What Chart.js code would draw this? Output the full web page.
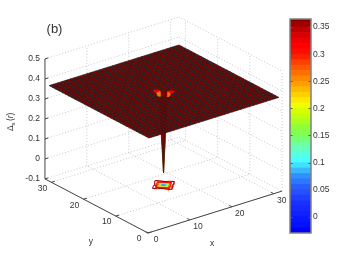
<!DOCTYPE html>
<html>
<head>
<meta charset="utf-8">
<style>
  html, body { margin: 0; padding: 0; background: #fff; }
  #wrap { position: relative; width: 349px; height: 262px; overflow: hidden; }
  canvas { position: absolute; top: 0; }
</style>
</head>
<body>
<div id="wrap">
  <canvas id="surface" width="349" height="262" style="left:0"></canvas>
  <canvas id="colorbar" width="79" height="262" style="left:270px"></canvas>
</div>
<script src="https://cdn.jsdelivr.net/npm/chart.js@4"></script>
<script>
const gridX = [1, 2, 3, 4, 5, 6, 7, 8, 9, 10, 11, 12, 13, 14, 15, 16, 17, 18, 19, 20, 21, 22, 23, 24, 25, 26, 27, 28, 29, 30, 31, 32];
const gridY = [1, 2, 3, 4, 5, 6, 7, 8, 9, 10, 11, 12, 13, 14, 15, 16, 17, 18, 19, 20, 21, 22, 23, 24, 25, 26, 27, 28, 29, 30, 31, 32];
const plateau = 0.36;
// values around the impurity (rows are y, columns are x)
const patchX = [13, 14, 15, 16, 17, 18, 19];
const patchY = [13, 14, 15, 16, 17, 18, 19];
const patchRows = [
  [0.36, 0.36, 0.36, 0.36, 0.36, 0.36, 0.36],
  [0.36, 0.36, 0.36, 0.355, 0.36, 0.36, 0.36],
  [0.36, 0.36, 0.355, 0.325, 0.355, 0.36, 0.36],
  [0.36, 0.355, 0.325, -0.04, 0.36, 0.36, 0.36],
  [0.36, 0.36, 0.355, 0.36, 0.36, 0.36, 0.36],
  [0.36, 0.36, 0.36, 0.36, 0.36, 0.36, 0.36],
  [0.36, 0.36, 0.36, 0.36, 0.36, 0.36, 0.36]
];
// contours on the floor read separately, they are wider than the visible dip
const floorRows = [
  [0.36, 0.36, 0.36, 0.36, 0.36, 0.36, 0.36],
  [0.36, 0.36, 0.358, 0.335, 0.358, 0.36, 0.36],
  [0.36, 0.358, 0.345, 0.14, 0.345, 0.358, 0.36],
  [0.36, 0.335, 0.14, -0.04, 0.14, 0.335, 0.36],
  [0.36, 0.358, 0.345, 0.14, 0.345, 0.358, 0.36],
  [0.36, 0.36, 0.358, 0.335, 0.358, 0.36, 0.36],
  [0.36, 0.36, 0.36, 0.36, 0.36, 0.36, 0.36]
];
// cells whose colour differs from the plateau: x, y, colour value
const shadedCells = [[15, 16, 0.265], [16, 15, 0.265], [15, 17, 0.325], [17, 15, 0.325]];
const contourLevels = [0, 0.04, 0.08, 0.12, 0.16, 0.2, 0.24, 0.28, 0.32, 0.35];

const xTicks = [0, 10, 20, 30];
const yTicks = [0, 10, 20, 30];
const zTicks = [-0.1, 0, 0.1, 0.2, 0.3, 0.4, 0.5];
const xMax = 32;
const yMax = 32;
const zMin = -0.1;
const zMax = 0.5;

const barTicks = [0, 0.05, 0.1, 0.15, 0.2, 0.25, 0.3, 0.35];
const barEdges = [-0.03, -0.02, -0.01, 0, 0.01, 0.02, 0.03, 0.04, 0.05, 0.06, 0.07, 0.08, 0.09, 0.1, 0.11, 0.12, 0.13, 0.14, 0.15, 0.16, 0.17, 0.18, 0.19, 0.2, 0.21, 0.22, 0.23, 0.24, 0.25, 0.26, 0.27, 0.28, 0.29, 0.3, 0.31, 0.32, 0.33, 0.34, 0.35, 0.36, 0.365];
const barColors = ['#0000ff', '#0410ff', '#0818ff', '#1020ff', '#1428ff', '#1a30ff', '#2040ff', '#2450ff', '#2860ff', '#2c78ff', '#3090ff', '#38b8ff', '#40e0ff', '#48ffff', '#58ffe0', '#64ffc0', '#70ff98', '#78ff70', '#80ff50', '#90ff38', '#a8ff20', '#c0ff10', '#d8ff00', '#f0ff00', '#ffe800', '#ffd000', '#ffb800', '#ffa000', '#ff8800', '#ff7000', '#ff5800', '#ff4000', '#ff2000', '#ff0c00', '#ff0000', '#f00000', '#d80000', '#c00000', '#a00000', '#800000'];

const textColor = '#333';
const fontFamily = '"Liberation Sans", Arial, sans-serif';

// fixed view of the 3D box onto the page plane
const project = (x, y, z) => ({
  x: 148 + x * 4.19 - y * 3.22,
  y: 233 - x * 1.31 - y * 1.69 - (z - zMin) * 200
});

const lookup = (rows, x, y) => {
  const col = patchX.indexOf(x);
  const row = patchY.indexOf(y);
  return col >= 0 && row >= 0 ? rows[row][col] : plateau;
};
const heightAt = (x, y) => lookup(patchRows, x, y);
const floorAt = (x, y) => lookup(floorRows, x, y);

const colorFor = (z) => {
  let i = barColors.length - 1;
  while (i > 0 && z < barEdges[i]) i--;
  return barColors[i];
};

const shadeOf = (x, y) => shadedCells.find((c) => c[0] === x && c[1] === y);

const lineSet = (points, color, width, dash) => ({
  data: points,
  showLine: true,
  borderColor: color,
  borderWidth: width,
  borderDash: dash || [],
  pointRadius: 0,
  fill: false,
  tension: 0
});

const gridSets = () => {
  const sets = [];
  const dotted = (a, b) => sets.push(lineSet([project(...a), project(...b)], '#bbb', 0.8, [1, 2]));
  xTicks.forEach((x) => {
    dotted([x, 0, zMin], [x, yMax, zMin]);
    if (x > 0) dotted([x, yMax, zMin], [x, yMax, zMax]);
  });
  yTicks.forEach((y) => {
    dotted([0, y, zMin], [xMax, y, zMin]);
    dotted([xMax, y, zMin], [xMax, y, zMax]);
  });
  zTicks.forEach((z) => {
    dotted([0, yMax, z], [xMax, yMax, z]);
    dotted([xMax, yMax, z], [xMax, 0, z]);
  });
  return sets;
};

const axisSets = () => {
  const sets = [];
  const solid = (a, b) => sets.push(lineSet([project(...a), project(...b)], '#444', 1));
  solid([0, 0, zMin], [xMax, 0, zMin]);
  solid([0, 0, zMin], [0, yMax, zMin]);
  solid([0, yMax, zMin], [0, yMax, zMax]);
  xTicks.forEach((x) => solid([x, 0, zMin], [x, 0.8, zMin]));
  yTicks.forEach((y) => solid([0, y, zMin], [0.8, y, zMin]));
  zTicks.forEach((z) => solid([0, yMax, z], [0.8, yMax, z]));
  return sets;
};

// contour lines on the floor, marching squares over the surface cells
const contourSets = () => {
  const sets = [];
  const cross = (x0, y0, z0, x1, y1, z1, level) => {
    const t = (level - z0) / (z1 - z0);
    return [x0 + (x1 - x0) * t, y0 + (y1 - y0) * t];
  };
  contourLevels.forEach((level) => {
    for (let j = 0; j < gridY.length - 1; j++) {
      for (let i = 0; i < gridX.length - 1; i++) {
        const x0 = gridX[i], x1 = gridX[i + 1], y0 = gridY[j], y1 = gridY[j + 1];
        const a = floorAt(x0, y0), b = floorAt(x1, y0), c = floorAt(x1, y1), d = floorAt(x0, y1);
        const hits = [];
        if ((a < level) !== (b < level)) hits.push(cross(x0, y0, a, x1, y0, b, level));
        if ((b < level) !== (c < level)) hits.push(cross(x1, y0, b, x1, y1, c, level));
        if ((d < level) !== (c < level)) hits.push(cross(x0, y1, d, x1, y1, c, level));
        if ((a < level) !== (d < level)) hits.push(cross(x0, y0, a, x0, y1, d, level));
        for (let h = 0; h + 1 < hits.length; h += 2) {
          sets.push(lineSet([project(hits[h][0], hits[h][1], zMin), project(hits[h + 1][0], hits[h + 1][1], zMin)], colorFor(level), 1.1));
        }
      }
    }
  });
  return sets;
};

// one filled quad per cell, far corner first so nearer cells cover it
const surfaceSets = () => {
  const sets = [];
  for (let i = gridX.length - 2; i >= 0; i--) {
    for (let j = gridY.length - 2; j >= 0; j--) {
      const x0 = gridX[i], x1 = gridX[i + 1], y0 = gridY[j], y1 = gridY[j + 1];
      const corners = [[x0, y0], [x1, y0], [x1, y1], [x0, y1], [x0, y0]];
      const shade = shadeOf(x0, y0);
      const fillColor = colorFor(shade ? shade[2] : plateau);
      const set = lineSet(corners.map((p) => project(p[0], p[1], heightAt(p[0], p[1]))), shade ? fillColor : 'rgba(30,30,30,0.9)', shade ? 0.5 : 0.8);
      set.fill = 'shape';
      set.backgroundColor = fillColor;
      sets.push(set);
    }
  }
  return sets;
};

const boxLabels = {
  id: 'boxLabels',
  afterDraw(chart) {
    const { ctx, scales } = chart;
    const put = (text, px, py, align, size) => {
      ctx.font = `${size || 8.5}px ${fontFamily}`;
      ctx.fillStyle = textColor;
      ctx.textAlign = align || 'center';
      ctx.textBaseline = 'middle';
      ctx.fillText(text, px, py);
    };
    const at = (p) => ({ x: scales.x.getPixelForValue(p.x), y: scales.y.getPixelForValue(p.y) });
    zTicks.forEach((z) => {
      const p = at(project(0, yMax, z));
      put(String(z), p.x - 5, p.y, 'right');
    });
    yTicks.forEach((y) => {
      const p = at(project(0, y, zMin));
      put(String(y), p.x - 9, p.y + 6);
    });
    xTicks.forEach((x) => {
      const p = at(project(x, 0, zMin));
      put(String(x), p.x + 8, p.y + 7);
    });
    const yName = at(project(0, yMax / 2, zMin));
    put('y', yName.x - 5.5, yName.y + 36);
    const xName = at(project(xMax / 2, 0, zMin));
    put('x', xName.x - 3, xName.y + 32);
    put('(b)', 54.5, 29, 'center', 13);

    ctx.save();
    ctx.translate(11, 131);
    ctx.rotate(-Math.PI / 2);
    ctx.fillStyle = textColor;
    ctx.textAlign = 'left';
    ctx.textBaseline = 'middle';
    ctx.font = `8.5px ${fontFamily}`;
    ctx.fillText('Δ', 0, 0);
    ctx.font = `6px ${fontFamily}`;
    ctx.fillText('s', 5.6, 2.5);
    ctx.font = `8.5px ${fontFamily}`;
    ctx.fillText('(', 10, 0);
    ctx.font = `italic 8.5px ${fontFamily}`;
    ctx.fillText('r', 12.8, 0);
    ctx.font = `8.5px ${fontFamily}`;
    ctx.fillText(')', 15.6, 0);
    ctx.restore();
  }
};

const barFrame = {
  id: 'barFrame',
  afterDraw(chart) {
    const { ctx, chartArea: a, scales } = chart;
    ctx.save();
    ctx.strokeStyle = '#555';
    ctx.lineWidth = 1;
    barTicks.forEach((t) => {
      const py = Math.round(scales.y.getPixelForValue(t)) + 0.5;
      ctx.beginPath();
      ctx.moveTo(a.left, py);
      ctx.lineTo(a.left + 2.5, py);
      ctx.moveTo(a.right - 2.5, py);
      ctx.lineTo(a.right, py);
      ctx.stroke();
    });
    ctx.strokeStyle = '#808080';
    ctx.lineWidth = 1.5;
    ctx.strokeRect(a.left, a.top, a.right - a.left, a.bottom - a.top);
    ctx.restore();
  }
};

// Chart.js paints the first dataset last, so hand them over back to front reversed
const allSets = [...gridSets(), ...contourSets(), ...surfaceSets(), ...axisSets()].reverse();

new Chart(document.getElementById('surface'), {
  type: 'scatter',
  data: { datasets: allSets },
  options: {
    responsive: false,
    animation: false,
    events: [],
    layout: { padding: 0 },
    plugins: { legend: { display: false }, tooltip: { enabled: false } },
    scales: {
      x: { type: 'linear', display: false, min: 0, max: 349 },
      y: { type: 'linear', display: false, min: 0, max: 262, reverse: true }
    }
  },
  plugins: [boxLabels]
});

new Chart(document.getElementById('colorbar'), {
  type: 'bar',
  data: {
    labels: ['Δ'],
    datasets: barColors.map((color, i) => ({
      data: [[barEdges[i], barEdges[i + 1]]],
      backgroundColor: color,
      borderWidth: 0,
      grouped: false,
      barPercentage: 1,
      categoryPercentage: 1
    }))
  },
  options: {
    responsive: false,
    animation: false,
    events: [],
    layout: { padding: { top: 19, bottom: 29, left: 20, right: 0 } },
    plugins: { legend: { display: false }, tooltip: { enabled: false } },
    scales: {
      x: { display: false },
      y: {
        position: 'right',
        min: -0.03,
        max: 0.365,
        grid: { display: false, drawTicks: false },
        border: { display: false },
        afterFit: (scale) => { scale.width = 38; },
        afterBuildTicks: (scale) => { scale.ticks = barTicks.map((value) => ({ value })); },
        ticks: {
          color: textColor,
          padding: 2,
          font: { family: fontFamily, size: 8.5 },
          callback: (value) => String(value)
        }
      }
    }
  },
  plugins: [barFrame]
});
</script>
</body>
</html>
